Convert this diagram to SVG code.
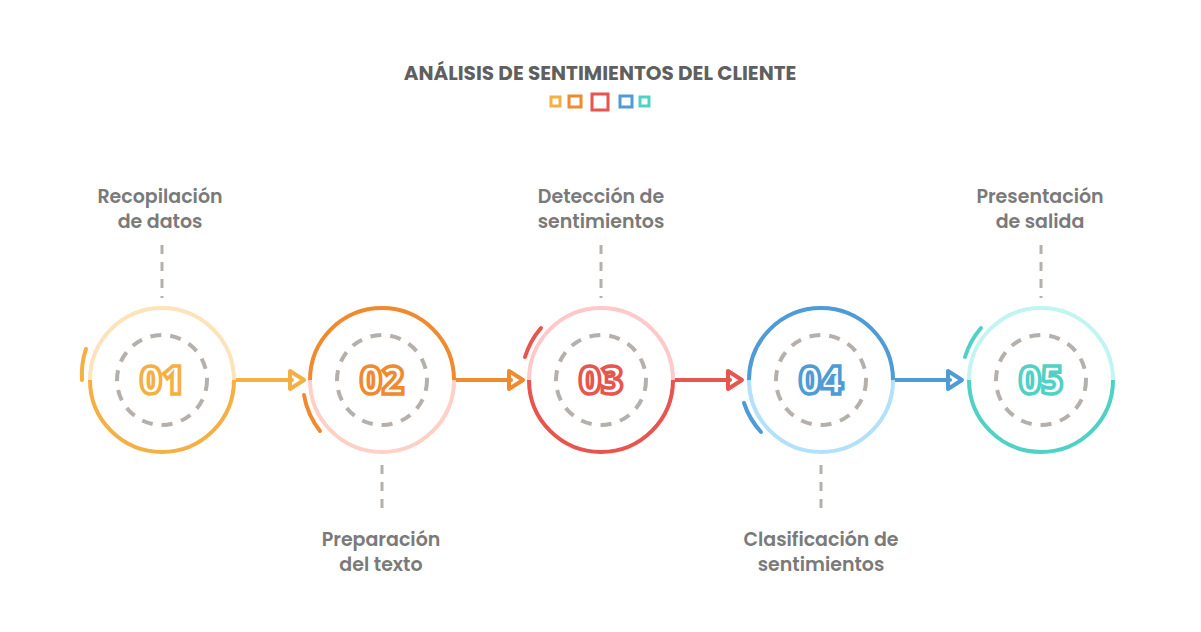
<svg xmlns="http://www.w3.org/2000/svg" width="1201" height="632" viewBox="0 0 1201 632">
<style>
.t{font-family:"Poppins","Open Sans","Liberation Sans",sans-serif;font-weight:600;font-size:19px;fill:#7a7a7a;text-anchor:middle}
.n{font-family:"Open Sans","Liberation Sans",sans-serif;font-weight:800;font-size:38px;fill:#fff;stroke-width:3.5;paint-order:normal;text-anchor:middle}
.d{fill:none;stroke:#b5b0ab;stroke-width:4;stroke-dasharray:11 9}
.v{stroke:#b5b0ab;stroke-width:3;stroke-dasharray:9 8}
.a{fill:none;stroke-width:4}
</style>
<rect width="1201" height="632" fill="#fff"/>
<text x="600" y="80" class="t" style="font-size:20px;fill:#5f5f5f;font-weight:700">ANÁLISIS DE SENTIMIENTOS DEL CLIENTE</text>
<g fill="none" stroke-width="3">
<rect x="551" y="97" width="9" height="9" stroke="#F4B042"/>
<rect x="569" y="96" width="12" height="11" stroke="#F08A2E"/>
<rect x="592" y="94" width="16" height="16" stroke="#E8544E"/>
<rect x="620" y="96" width="12" height="11" stroke="#4E9BD6"/>
<rect x="640" y="97" width="9" height="9" stroke="#4FD1C5"/>
</g>
<g id="connectors">
<g class="a" stroke-linecap="round" stroke-linejoin="round">
<path d="M234 380H292M290 371L304 380L290 389Z" stroke="#F4B042"/>
<path d="M454 380H511M509 371L523 380L509 389Z" stroke="#F08A2E"/>
<path d="M673 380H730M728 371L742 380L728 389Z" stroke="#E8544E"/>
<path d="M893 380H950M948 371L962 380L948 389Z" stroke="#4E9BD6"/>
</g>
<line x1="162" y1="245" x2="162" y2="298" class="v"/>
<line x1="382" y1="465" x2="382" y2="515" class="v"/>
<line x1="601" y1="245" x2="601" y2="298" class="v"/>
<line x1="821" y1="465" x2="821" y2="515" class="v"/>
<line x1="1041" y1="245" x2="1041" y2="298" class="v"/>
</g>
<g id="n1">
<path d="M90 380A72 72 0 0 1 234 380" class="a" stroke="#FDE3BA"/>
<path d="M90 380A72 72 0 0 0 234 380" class="a" stroke="#F4B042"/>
<path d="M86 349A80 80 0 0 0 82 380" class="a" stroke="#F4B042" stroke-linecap="round"/>
<circle cx="162" cy="380" r="45" class="d"/>
<text x="162" y="394" class="n" stroke="#F4B042">01</text>
<text x="160" y="203" class="t">Recopilación</text><text x="160" y="228" class="t">de datos</text>
</g>
<g id="n2">
<path d="M310 380A72 72 0 0 1 454 380" class="a" stroke="#F08A2E"/>
<path d="M310 380A72 72 0 0 0 454 380" class="a" stroke="#FFD0C6"/>
<path d="M304 395A80 80 0 0 0 320 431" class="a" stroke="#F08A2E" stroke-linecap="round"/>
<circle cx="382" cy="380" r="45" class="d"/>
<text x="382" y="394" class="n" stroke="#F08A2E">02</text>
<text x="381" y="546" class="t">Preparación</text><text x="381" y="571" class="t">del texto</text>
</g>
<g id="n3">
<path d="M529 380A72 72 0 0 1 673 380" class="a" stroke="#FFC9C9"/>
<path d="M529 380A72 72 0 0 0 673 380" class="a" stroke="#E8544E"/>
<path d="M525 357A80 80 0 0 1 541 328" class="a" stroke="#E8544E" stroke-linecap="round"/>
<circle cx="601" cy="380" r="45" class="d"/>
<text x="601" y="394" class="n" stroke="#E8544E">03</text>
<text x="601" y="203" class="t">Detección de</text><text x="601" y="228" class="t">sentimientos</text>
</g>
<g id="n4">
<path d="M749 380A72 72 0 0 1 893 380" class="a" stroke="#4E9BD6"/>
<path d="M749 380A72 72 0 0 0 893 380" class="a" stroke="#B3E0FA"/>
<path d="M744 403A80 80 0 0 0 761 432" class="a" stroke="#4E9BD6" stroke-linecap="round"/>
<circle cx="821" cy="380" r="45" class="d"/>
<text x="821" y="394" class="n" stroke="#4E9BD6">04</text>
<text x="821" y="546" class="t">Clasificación de</text><text x="821" y="571" class="t">sentimientos</text>
</g>
<g id="n5">
<path d="M969 380A72 72 0 0 1 1113 380" class="a" stroke="#C2F5F2"/>
<path d="M969 380A72 72 0 0 0 1113 380" class="a" stroke="#4FD1C5"/>
<path d="M965 357A80 80 0 0 1 981 328" class="a" stroke="#4FD1C5" stroke-linecap="round"/>
<circle cx="1041" cy="380" r="45" class="d"/>
<text x="1041" y="394" class="n" stroke="#4FD1C5">05</text>
<text x="1040" y="203" class="t">Presentación</text><text x="1040" y="228" class="t">de salida</text>
</g>
</svg>
